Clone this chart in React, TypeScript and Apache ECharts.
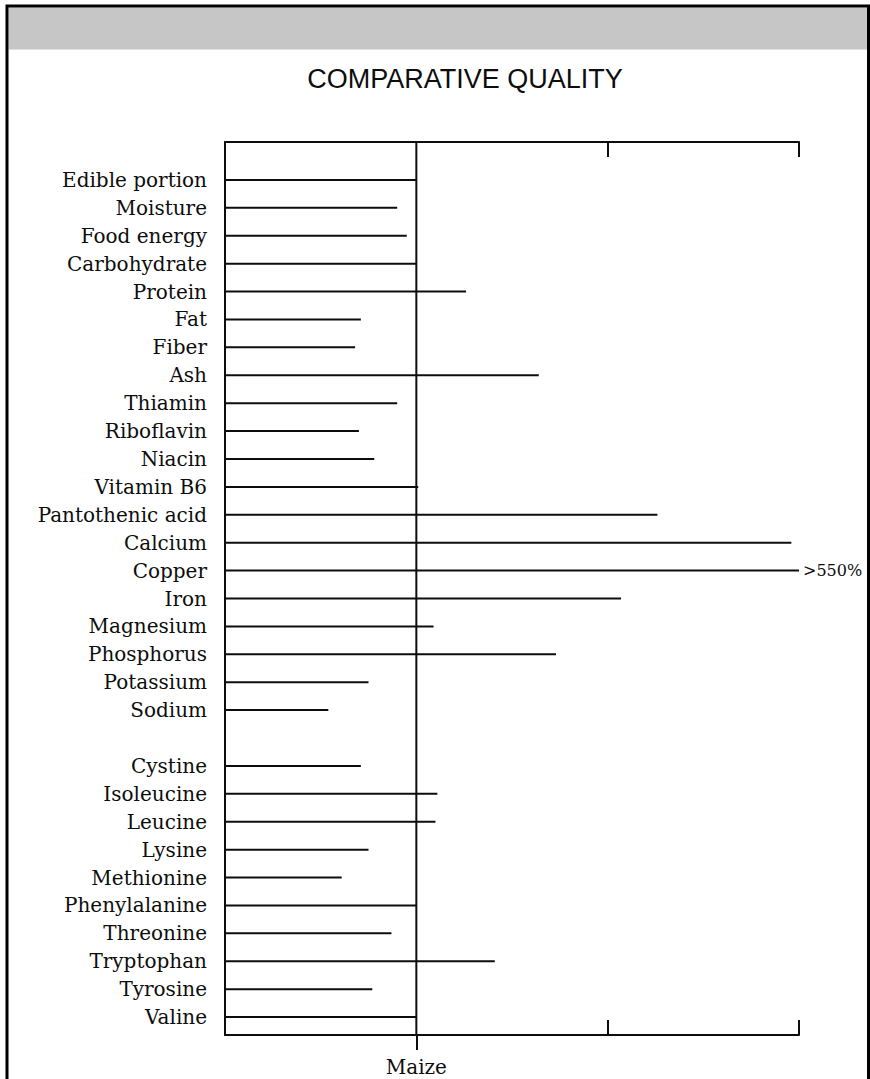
import React, { useEffect, useRef } from 'react';
import * as echarts from 'echarts';

const categories: string[] = [
  'Edible portion', 'Moisture', 'Food energy', 'Carbohydrate', 'Protein', 'Fat', 'Fiber', 'Ash',
  'Thiamin', 'Riboflavin', 'Niacin', 'Vitamin B6', 'Pantothenic acid', 'Calcium', 'Copper', 'Iron',
  'Magnesium', 'Phosphorus', 'Potassium', 'Sodium', '',
  'Cystine', 'Isoleucine', 'Leucine', 'Lysine', 'Methionine', 'Phenylalanine', 'Threonine',
  'Tryptophan', 'Tyrosine', 'Valine',
];

// percent of maize (100 = maize); Copper is off the scale (>550%) and drawn to the axis end
const percentOfMaize: (number | null)[] = [
  100, 90, 95, 100, 126, 71, 68, 164,
  90, 70, 78, 101, 226, 296, 300, 207,
  109, 173, 75, 54, null,
  71, 111, 110, 75, 61, 100, 87,
  141, 77, 100,
];

const axisMin = 0;
const axisMax = 300;
const axisInterval = 100;
const innerTickValues = [200, 300];
const referenceValue = 100;
const referenceLabel = 'Maize';
const overflowCategory = 'Copper';
const overflowLabel = '>550%';
const titleText = 'COMPARATIVE QUALITY';

const INK = '#0d0d0d';
const SERIF = '"DejaVu Serif", serif';

export default function App() {
  const ref = useRef<HTMLDivElement>(null);

  useEffect(() => {
    if (!ref.current) return;
    const chart = echarts.init(ref.current, undefined, { renderer: 'svg' });
    const overflowIndex = categories.indexOf(overflowCategory);

    const barData = percentOfMaize.map((v, i) =>
      i === overflowIndex
        ? {
            value: v,
            label: {
              show: true,
              position: 'right',
              distance: 4,
              formatter: overflowLabel,
              fontFamily: SERIF,
              fontSize: 16,
              color: INK,
            },
          }
        : v
    );

    const frameLine = { color: INK, width: 2 };

    chart.setOption({
      animation: false,
      backgroundColor: '#ffffff',
      grid: [
        { left: 225, top: 142, width: 574, height: 893, containLabel: false },
        { left: 225, top: 166, width: 574, height: 865, containLabel: false },
      ],
      xAxis: [
        {
          gridIndex: 0, type: 'value', min: axisMin, max: axisMax, interval: axisInterval, position: 'bottom',
          axisLine: { show: true, lineStyle: frameLine },
          axisTick: { show: true, inside: true, length: 15, customValues: innerTickValues, lineStyle: frameLine },
          axisLabel: { show: false },
          splitLine: { show: false },
        },
        {
          gridIndex: 0, type: 'value', min: axisMin, max: axisMax, interval: axisInterval, position: 'bottom',
          axisLine: { show: false },
          axisTick: { show: true, inside: false, length: 15, customValues: [referenceValue], lineStyle: frameLine },
          axisLabel: {
            show: true, customValues: [referenceValue], formatter: () => referenceLabel,
            margin: 22, fontFamily: SERIF, fontSize: 20, color: INK,
          },
          splitLine: { show: false },
        },
        {
          gridIndex: 0, type: 'value', min: axisMin, max: axisMax, interval: axisInterval, position: 'top',
          axisLine: { show: true, lineStyle: frameLine },
          axisTick: { show: true, inside: true, length: 15, customValues: innerTickValues, lineStyle: frameLine },
          axisLabel: { show: false },
          splitLine: { show: false },
        },
        { gridIndex: 1, type: 'value', min: axisMin, max: axisMax, show: false, splitLine: { show: false } },
      ],
      yAxis: [
        {
          gridIndex: 0, type: 'value', min: 0, max: 1, position: 'left',
          axisLine: { show: true, lineStyle: frameLine },
          axisTick: { show: false }, axisLabel: { show: false }, splitLine: { show: false },
        },
        {
          gridIndex: 1, type: 'category', inverse: true, data: categories,
          axisLine: { show: false }, axisTick: { show: false }, splitLine: { show: false },
          axisLabel: { interval: 0, margin: 18, fontFamily: SERIF, fontSize: 20, color: INK },
        },
      ],
      series: [
        {
          type: 'line', xAxisIndex: 0, yAxisIndex: 0,
          data: [[referenceValue, 0], [referenceValue, 1]],
          symbol: 'none', silent: true,
          lineStyle: { color: INK, width: 2 },
        },
        {
          type: 'bar', xAxisIndex: 3, yAxisIndex: 1,
          data: barData, barWidth: 2, silent: true,
          itemStyle: { color: INK },
        },
      ],
      graphic: [
        {
          type: 'rect', z: 10,
          shape: { x: 8.5, y: 7.5, width: 858.5, height: 42 },
          style: { fill: '#c6c6c6' },
        },
        {
          type: 'text', z: 10, x: 465, y: 79,
          style: {
            text: titleText, textAlign: 'center', textVerticalAlign: 'middle',
            fontFamily: '"Liberation Sans", Arial, sans-serif', fontSize: 27, fill: INK,
          },
        },
        {
          type: 'rect', z: 100,
          shape: { x: 7, y: 6, width: 861.5, height: 1200 },
          style: { fill: 'none', stroke: '#000', lineWidth: 3 },
        },
      ],
    });

    return () => chart.dispose();
  }, []);

  return (
    <div
      ref={ref}
      style={{ position: 'absolute', left: 0, top: 0, width: 870, height: 1079, background: '#fff' }}
    />
  );
}
